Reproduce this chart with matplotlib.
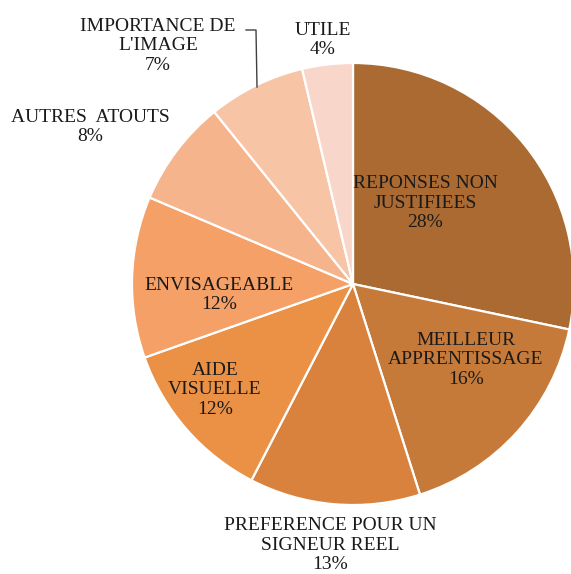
import matplotlib.pyplot as plt

labels = ["REPONSES NON\nJUSTIFIEES", "MEILLEUR\nAPPRENTISSAGE",
          "PREFERENCE POUR UN\nSIGNEUR REEL", "AIDE\nVISUELLE",
          "ENVISAGEABLE", "AUTRES  ATOUTS", "IMPORTANCE DE\nL'IMAGE", "UTILE"]
# slice sizes as measured from the wedge angles
shares = [28.3, 16.8, 12.5, 12.0, 11.8, 7.8, 7.1, 3.7]
# percentages as printed on the chart
pct_labels = [28, 16, 13, 12, 12, 8, 7, 4]
colors = ["#AA6A32", "#C67A3A", "#D8823E", "#EB9146", "#F5A066",
          "#F6B48C", "#F8C4A6", "#F9D6CA"]

# label positions in pixel coords (x, y from top)
label_pos = [(425, 203), (466, 360), (330, 545), (215, 390),
             (219, 295), (90, 127), (158, 46), (323, 40)]

W, H = 571, 574
fig = plt.figure(figsize=(W / 100, H / 100), dpi=100)
ax = fig.add_axes([0, 0, 1, 1])

cx, cy, r = 353, H - 284, 221
ax.pie(shares, colors=colors, startangle=90, counterclock=False,
       center=(cx, cy), radius=r, frame=True,
       wedgeprops=dict(edgecolor="white", linewidth=1.6))
ax.set_xlim(0, W)
ax.set_ylim(0, H)
ax.set_aspect("equal")
ax.axis("off")

for lab, p, (x, y) in zip(labels, pct_labels, label_pos):
    ax.text(x, H - y, f"{lab}\n{p}%", ha="center", va="center",
            fontsize=14, family="Liberation Serif", color="#1a1a1a",
            linespacing=1.2)

# leader line for IMPORTANCE DE L'IMAGE
ax.plot([246, 256, 257], [H - 30, H - 30, H - 87], color="#404040", lw=1)

fig.savefig("out.png", dpi=100)
